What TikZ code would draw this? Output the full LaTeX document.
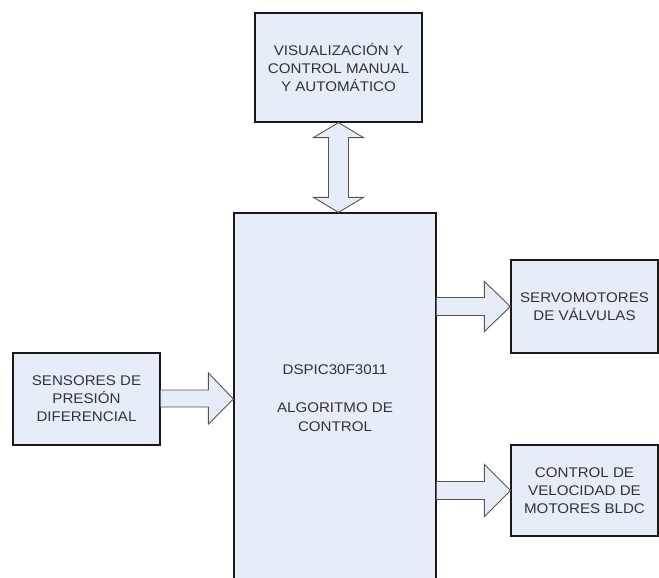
\documentclass[tikz,border=0pt]{standalone}
\usepackage{fontspec}
\setmainfont[FakeStretch=1.08]{Liberation Sans}
\usepackage{tikz}
\usetikzlibrary{positioning, calc}
\definecolor{boxfill}{RGB}{230, 237, 248}
\definecolor{txtgray}{RGB}{50, 50, 55}
\definecolor{arrgray}{RGB}{85, 85, 85}

\begin{document}
\begin{tikzpicture}[x=1pt, y=-1pt,
    bloque/.style={rectangle, draw=black!90, fill=boxfill, line width=1.2pt, align=center,
        text=txtgray, font=\fontsize{14}{18}\selectfont, inner sep=0pt},
    etiqueta/.style={align=center, text=txtgray, font=\fontsize{14}{19}\selectfont},
    flecha/.style={draw=arrgray, fill=boxfill, line width=0.9pt, line join=miter}]
    % marco de la imagen
    \useasboundingbox (0,0) rectangle (659,578);
    \clip (0,0) rectangle (659,578);

    % bloque central (sigue por debajo del borde)
    \node[bloque, minimum width=202, minimum height=377] (dsp) at (335,401.5) {};
    \node[etiqueta] (dsptxt) at (335,398) {DSPIC30F3011\\[19pt]ALGORITMO DE\\CONTROL};

    % bloque superior
    \node[bloque, minimum width=167, minimum height=109] (visu) at (338.5,67.5)
        {VISUALIZACIÓN Y\\CONTROL MANUAL\\Y AUTOMÁTICO};

    % sensores a la izquierda
    \node[bloque, minimum width=147, minimum height=92] (sens) at (86.5,399)
        {SENSORES DE\\PRESIÓN\\DIFERENCIAL};

    % salidas a la derecha
    \node[bloque, minimum width=147, minimum height=93] (servo) at (584.5,306.5)
        {SERVOMOTORES\\DE VÁLVULAS};
    \node[bloque, minimum width=147, minimum height=91] (bldc) at (584.5,490.5)
        {CONTROL DE\\VELOCIDAD DE\\MOTORES BLDC};

    % flecha doble entre visualizacion y el dsPIC
    \coordinate (dsptop) at (visu.south |- dsp.north);
    \filldraw[flecha] (visu.south) -- ($(visu.south)+(25,15)$) -- ($(visu.south)+(10,15)$)
        -- ($(dsptop)+(10,-15)$) -- ($(dsptop)+(25,-15)$) -- (dsptop)
        -- ($(dsptop)+(-25,-15)$) -- ($(dsptop)+(-10,-15)$)
        -- ($(visu.south)+(-10,15)$) -- ($(visu.south)+(-25,15)$) -- cycle;

    % flecha sensores -> dsPIC
    \coordinate (dspin) at (dsp.west |- sens.east);
    \filldraw[flecha] ($(sens.east)+(0,-9)$) -- ($(dspin)+(-25,-9)$) -- ($(dspin)+(-25,-26)$)
        -- (dspin) -- ($(dspin)+(-25,25)$) -- ($(dspin)+(-25,8)$) -- ($(sens.east)+(0,8)$);

    % flecha dsPIC -> servomotores
    \coordinate (dspout1) at (dsp.east |- servo.west);
    \filldraw[flecha] ($(dspout1)+(0,-9)$) -- ($(servo.west)+(-26,-9)$) -- ($(servo.west)+(-26,-25)$)
        -- (servo.west) -- ($(servo.west)+(-26,25)$) -- ($(servo.west)+(-26,9)$) -- ($(dspout1)+(0,9)$);

    % flecha dsPIC -> control BLDC
    \coordinate (dspout2) at (dsp.east |- bldc.west);
    \filldraw[flecha] ($(dspout2)+(0,-9)$) -- ($(bldc.west)+(-26,-9)$) -- ($(bldc.west)+(-26,-26)$)
        -- (bldc.west) -- ($(bldc.west)+(-26,26)$) -- ($(bldc.west)+(-26,9)$) -- ($(dspout2)+(0,9)$);
\end{tikzpicture}
\end{document}
